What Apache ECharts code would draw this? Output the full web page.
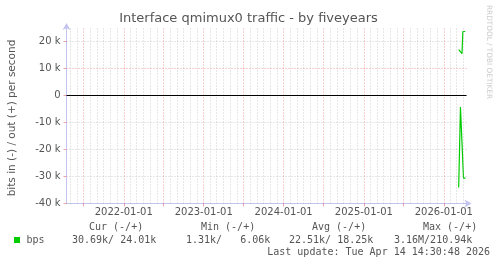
<!DOCTYPE html>
<html><head><meta charset="utf-8">
<script src="https://cdn.jsdelivr.net/npm/echarts@6/dist/echarts.min.js"></script>
<style>html,body{margin:0;padding:0;background:#fff}#c{width:497px;height:264px}</style>
</head><body><div id="c"></div>
<script>
const title = 'Interface qmimux0 traffic - by fiveyears';
const yAxisName = 'bits in (-) / out (+) per second';
const rangeStart = '2021-04-14T14:30:48Z';
const rangeEnd = '2026-04-14T14:30:48Z';
const xTickLabels = ['2022-01-01', '2023-01-01', '2024-01-01', '2025-01-01', '2026-01-01'];
const yTicks = [-40000, -30000, -20000, -10000, 0, 10000, 20000];
const yTickLabels = ['-40 k', '-30 k', '-20 k', '-10 k', '0', '10 k', '20 k'];
const outTimes = ['2026-03-10', '2026-03-16', '2026-03-25', '2026-03-29', '2026-04-09'];
const outValues = [17000, 16800, 15500, 23700, 23700];
const inTimes = ['2026-03-10', '2026-03-15', '2026-03-18', '2026-04-01', '2026-04-10'];
const inValues = [-34100, -34100, -4300, -30600, -30600];
const seriesName = 'bps';
const legendHeaders = ['Cur (-/+)', 'Min (-/+)', 'Avg (-/+)', 'Max (-/+)'];
const legendValues = ['30.69k/ 24.01k', '1.31k/   6.06k', '22.51k/ 18.25k', '3.16M/210.94k'];
const lastUpdate = 'Last update: Tue Apr 14 14:30:48 2026';
const watermark = 'RRDTOOL / TOBI OETIKER';

const t = s => Date.parse(s.length === 10 ? s + 'T00:00:00Z' : s);
const xMin = t(rangeStart), xMax = t(rangeEnd);
// month grid positions
const months = [], halfYears = [];
{
  const d0 = new Date(xMin);
  let y = d0.getUTCFullYear(), m = d0.getUTCMonth() + 1;
  while (true) {
    if (m > 11) { m = 0; y++; }
    const v = Date.UTC(y, m, 1);
    if (v > xMax) break;
    if (m === 0 || m === 6) halfYears.push(v); else months.push(v);
    m++;
  }
}
const labelVals = xTickLabels.map(t);
const labelMap = {};
labelVals.forEach((v, i) => labelMap[v] = xTickLabels[i]);
const yLabelMap = {};
yTicks.forEach((v, i) => yLabelMap[v] = yTickLabels[i]);

const GREEN = '#00cc00';
const TXT = '#555555';
const MINOR = 'rgba(170,170,170,0.55)';
const MAJOR = 'rgba(225,90,90,0.55)';
const AXIS = '#c4c4f0';

const chart = echarts.init(document.getElementById('c'), null, {renderer: 'canvas'});
const mono = 'DejaVu Sans Mono';
const colX = [72, 186, 289, 394];
const hdrX = [89, 201, 312, 423];
const graphics = [
  {type: 'text', left: 'center', top: 12, style: {text: title, font: '13px "DejaVu Sans"', fill: TXT, x: 0}},
  {type: 'text', x: 12, y: 118, rotation: Math.PI / 2, style: {text: yAxisName, font: '10.5px "DejaVu Sans"', fill: TXT, align: 'center', verticalAlign: 'middle'}},
  {type: 'text', x: 489, y: 5, rotation: -Math.PI / 2, style: {text: watermark, font: '7.3px "DejaVu Sans"', fill: '#cccccc', align: 'left', verticalAlign: 'middle'}},
  {type: 'rect', shape: {x: 14, y: 237, width: 6, height: 6}, style: {fill: GREEN}},
  {type: 'text', x: 26.5, y: 240, style: {text: seriesName, font: '10px "' + mono + '"', fill: TXT, verticalAlign: 'middle'}},
  {type: 'text', x: 490, y: 252, style: {text: lastUpdate, font: '10px "' + mono + '"', fill: TXT, align: 'right', verticalAlign: 'middle'}}
];
legendHeaders.forEach((h, i) => graphics.push({type: 'text', x: hdrX[i], y: 227, style: {text: h, font: '10px "' + mono + '"', fill: TXT, verticalAlign: 'middle'}}));
legendValues.forEach((h, i) => graphics.push({type: 'text', x: colX[i], y: 240, style: {text: h, font: '10px "' + mono + '"', fill: TXT, verticalAlign: 'middle'}}));

const option = {
  animation: false,
  backgroundColor: '#ffffff',
  grid: {left: 66.5, right: 30.5, top: 28, height: 175.5, outerBoundsMode: 'none'},
  xAxis: {
    type: 'value', min: xMin, max: xMax,
    axisLine: {show: true, onZero: false, lineStyle: {color: AXIS, width: 1}, symbol: ['none', 'arrow'], symbolSize: [6, 7], symbolOffset: [0, 5]},
    axisTick: {show: true, customValues: halfYears, length: 3, lineStyle: {color: MAJOR}},
    axisLabel: {customValues: labelVals, formatter: v => labelMap[v] || '', color: TXT, fontFamily: 'DejaVu Sans', fontSize: 10, margin: 4},
    splitLine: {show: false}
  },
  yAxis: {
    type: 'value', min: -40000, max: 25000, interval: 2000,
    axisLine: {show: true, onZero: false, lineStyle: {color: AXIS, width: 1}, symbol: ['none', 'arrow'], symbolSize: [6, 7], symbolOffset: [0, 5]},
    axisTick: {show: true, customValues: yTicks, length: 3, lineStyle: {color: MAJOR}},
    axisLabel: {customValues: yTicks, formatter: v => yLabelMap[v] !== undefined ? yLabelMap[v] : '', color: TXT, fontFamily: 'DejaVu Sans', fontSize: 10, margin: 6},
    splitLine: {show: true, lineStyle: {color: [MAJOR, MINOR, MINOR, MINOR, MINOR], type: [1, 2], width: 1}}
  },
  graphic: graphics,
  series: [
    {
      type: 'line', name: 'grid', data: [], silent: true,
      markLine: {
        silent: true, symbol: ['none', 'none'], label: {show: false}, animation: false,
        data: months.map(v => ({xAxis: v, lineStyle: {color: MINOR, type: [1, 2], width: 1}}))
          .concat(halfYears.map(v => ({xAxis: v, lineStyle: {color: MAJOR, type: [1, 2], width: 1}})))
          .concat([{yAxis: 0, lineStyle: {color: '#000000', type: 'solid', width: 1}}])
      }
    },
    {type: 'line', name: 'out', data: outTimes.map((s, i) => [t(s), outValues[i]]), showSymbol: false, lineStyle: {color: GREEN, width: 1.2}, itemStyle: {color: GREEN}},
    {type: 'line', name: 'in', data: inTimes.map((s, i) => [t(s), inValues[i]]), showSymbol: false, lineStyle: {color: GREEN, width: 1.2}, itemStyle: {color: GREEN}}
  ]
};
chart.setOption(option);
</script></body></html>
